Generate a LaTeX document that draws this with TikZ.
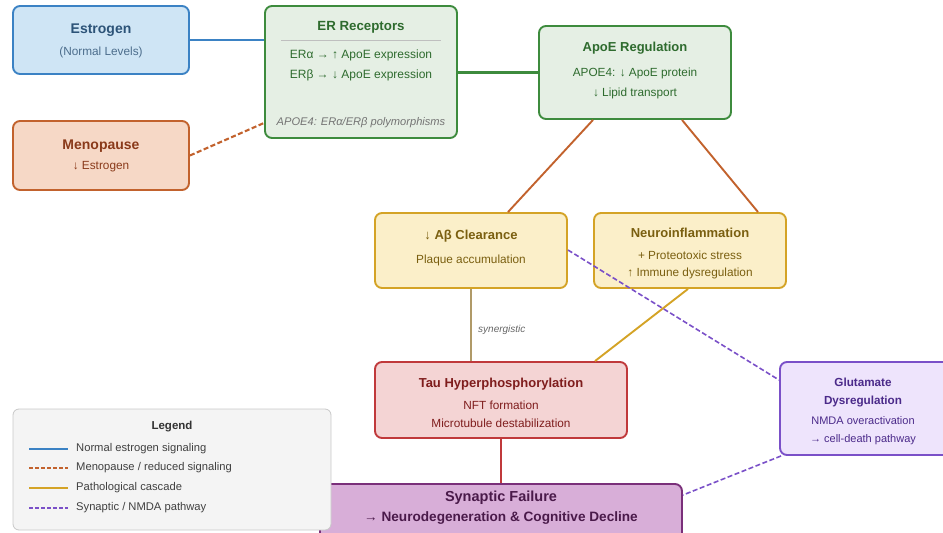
\documentclass[tikz,border=0pt]{standalone}
\usepackage{fontspec}
\setmainfont{Liberation Sans}
\usetikzlibrary{calc}
\definecolor{bBd}{HTML}{3B82C4}\definecolor{bFl}{HTML}{CFE5F5}\definecolor{bTx}{HTML}{2C5378}
\definecolor{gBd}{HTML}{3D8B3D}\definecolor{gFl}{HTML}{E5EFE4}\definecolor{gTx}{HTML}{2E6B2E}
\definecolor{oBd}{HTML}{C2622D}\definecolor{oFl}{HTML}{F6D8C6}\definecolor{oTx}{HTML}{8A3A1A}
\definecolor{yBd}{HTML}{D4A326}\definecolor{yFl}{HTML}{FBEFC9}\definecolor{yTx}{HTML}{7A5F10}
\definecolor{rBd}{HTML}{C0393B}\definecolor{rFl}{HTML}{F4D4D4}\definecolor{rTx}{HTML}{7F1D1D}
\definecolor{pBd}{HTML}{7A50C8}\definecolor{pFl}{HTML}{EEE4FC}\definecolor{pTx}{HTML}{4B2A8A}
\definecolor{sBd}{HTML}{7A2F7A}\definecolor{sFl}{HTML}{D8AED8}\definecolor{sTx}{HTML}{4A1A4A}
\definecolor{lgBd}{HTML}{C8C8C8}\definecolor{lgFl}{HTML}{F4F4F4}
\definecolor{synC}{HTML}{B09A68}
\tikzset{
  box/.style={draw, rounded corners=7pt, line width=1.9pt, inner sep=0pt},
  ttl/.style={font=\bfseries\fontsize{13}{15}\selectfont, inner sep=0pt},
  bigttl/.style={font=\bfseries\fontsize{14}{16}\selectfont, inner sep=0pt},
  bdy/.style={font=\fontsize{11.8}{14}\selectfont, inner sep=0pt},
  lgt/.style={font=\fontsize{11.2}{13}\selectfont, inner sep=0pt, anchor=west, text=black!75},
  conn/.style={line width=2.1pt},
  dsh/.style={dash pattern=on 5pt off 2.5pt},
}
\begin{document}
\begin{tikzpicture}[x=1pt,y=-1pt]
\useasboundingbox (0,0) rectangle (943,533);
\clip (0,0) rectangle (943,533);
% boxes
\node[box, draw=bBd, fill=bFl, minimum width=176, minimum height=68] (estrogen) at (101,40) {};
\node[box, draw=gBd, fill=gFl, minimum width=192, minimum height=132] (er) at (361,72) {};
\node[box, draw=oBd, fill=oFl, minimum width=176, minimum height=69] (meno) at (101,155.5) {};
\node[box, draw=gBd, fill=gFl, minimum width=192, minimum height=93] (apoe) at (635,72.5) {};
\node[box, draw=yBd, fill=yFl, minimum width=192, minimum height=75] (ab) at (471,250.5) {};
\node[box, draw=yBd, fill=yFl, minimum width=192, minimum height=75] (neuro) at (690,250.5) {};
\node[box, draw=rBd, fill=rFl, minimum width=252, minimum height=76] (tau) at (501,400) {};
\node[box, draw=pBd, fill=pFl, minimum width=170, minimum height=93] (glu) at (865,408.5) {};
\node[box, draw=sBd, fill=sFl, minimum width=362, minimum height=56] (syn) at (501,512) {};
\node[draw=lgBd, fill=lgFl, rounded corners=6pt, line width=0.8pt, minimum width=318, minimum height=121, inner sep=0pt] (legend) at (172,469.5) {};

% connectors
\draw[conn, bBd] (estrogen.east) -- (er.west |- estrogen.east);
\coordinate (erbl) at ($(er.south west)+(0,-16)$);
\draw[conn, oBd, dsh] (meno.east) -- (erbl);
\draw[conn, gBd] (er.east |- apoe.west) -- (apoe.west);
\draw[conn, oBd, line width=1.9pt] ($(apoe.south)+(-42,0)$) -- ($(ab.north)+(37,0)$);
\draw[conn, oBd, line width=1.9pt] ($(apoe.south)+(47,0)$) -- ($(neuro.north)+(68,0)$);
\draw[conn, synC, line width=1.9pt] (ab.south) -- (tau.north -| ab.south);
\node[font=\itshape\fontsize{10}{12}\selectfont, text=black!60, inner sep=0pt, anchor=west] (synlbl) at (478,330) {synergistic};
\draw[conn, yBd, line width=1.9pt] ($(neuro.south)+(-2,0)$) -- ($(tau.north)+(94,0)$);
\draw[conn, pBd, dsh, line width=1.6pt] ($(ab.east)+(0,-0.5)$) -- ($(glu.west)+(0,-28.5)$);
\draw[conn, rBd] (tau.south -| syn.north) -- (syn.north);
\draw[conn, pBd, dsh, line width=1.6pt] ($(glu.south west)+(2,0)$) -- ($(syn.east)+(0,-17)$);

% texts
\node[bigttl, text=bTx] (t-estr) at (101,30) {Estrogen};
\node[bdy, text=bTx!85] (b-estr) at (101,52) {(Normal Levels)};
\node[ttl, font=\bfseries\fontsize{13.3}{15}\selectfont, text=gTx] (t-er) at (361,27) {ER Receptors};
\draw[black!25, line width=0.8pt] (281,40) -- (441,40);
\node[bdy, font=\fontsize{12}{14}\selectfont, text=gTx] (b-er1) at (361,55) {ERα → ↑ ApoE expression};
\node[bdy, font=\fontsize{12}{14}\selectfont, text=gTx] (b-er2) at (361,75) {ERβ → ↓ ApoE expression};
\node[bdy, font=\itshape\fontsize{11.1}{13}\selectfont, text=black!55] (b-er3) at (361,123) {APOE4: ERα/ERβ polymorphisms};
\node[bigttl, text=oTx] (t-meno) at (101,146) {Menopause};
\node[bdy, text=oTx] (b-meno) at (101,167) {↓ Estrogen};
\node[ttl, text=gTx] (t-apoe) at (635,48) {ApoE Regulation};
\node[bdy, text=gTx] (b-apoe1) at (635,73) {APOE4: ↓ ApoE protein};
\node[bdy, text=gTx] (b-apoe2) at (635,93) {↓ Lipid transport};
\node[ttl, text=yTx] (t-ab) at (471,236) {↓ Aβ Clearance};
\node[bdy, text=yTx] (b-ab) at (471,260) {Plaque accumulation};
\node[ttl, text=yTx] (t-neuro) at (690,233) {Neuroinflammation};
\node[bdy, text=yTx] (b-neuro1) at (690,255) {+ Proteotoxic stress};
\node[bdy, text=yTx] (b-neuro2) at (690,273) {↑ Immune dysregulation};
\node[ttl, text=rTx] (t-tau) at (501,384) {Tau Hyperphosphorylation};
\node[bdy, text=rTx] (b-tau1) at (501,405) {NFT formation};
\node[bdy, text=rTx] (b-tau2) at (501,423) {Microtubule destabilization};
\node[ttl, font=\bfseries\fontsize{11.7}{13}\selectfont, text=pTx] (t-glu1) at (863,382) {Glutamate};
\node[ttl, font=\bfseries\fontsize{11.7}{13}\selectfont, text=pTx] (t-glu2) at (863,401) {Dysregulation};
\node[bdy, font=\fontsize{11}{13}\selectfont, text=pTx] (b-glu1) at (863,421) {NMDA overactivation};
\node[bdy, font=\fontsize{11}{13}\selectfont, text=pTx] (b-glu2) at (863,440) {→ cell-death pathway};
\node[ttl, font=\bfseries\fontsize{14.5}{16}\selectfont, text=sTx] (t-syn) at (501,498) {Synaptic Failure};
\node[ttl, font=\bfseries\fontsize{13.6}{16}\selectfont, text=sTx] (t-syn2) at (501,518) {→ Neurodegeneration \& Cognitive Decline};

% legend
\node[font=\bfseries\fontsize{11.5}{13}\selectfont, text=black!80, inner sep=0pt] (lg-t) at (172,427) {Legend};
\coordinate (l1a) at (29,449); \coordinate (l1b) at (68,449);
\coordinate (l2a) at (29,468); \coordinate (l2b) at (68,468);
\coordinate (l3a) at (29,488); \coordinate (l3b) at (68,488);
\coordinate (l4a) at (29,508); \coordinate (l4b) at (68,508);
\draw[bBd, line width=1.6pt] (l1a) -- (l1b);
\draw[oBd, line width=1.6pt, dash pattern=on 4pt off 2pt] (l2a) -- (l2b);
\draw[yBd, line width=1.6pt] (l3a) -- (l3b);
\draw[pBd, line width=1.6pt, dash pattern=on 4pt off 2pt] (l4a) -- (l4b);
\node[lgt] (lg1) at (76,449) {Normal estrogen signaling};
\node[lgt] (lg2) at (76,468) {Menopause / reduced signaling};
\node[lgt] (lg3) at (76,488) {Pathological cascade};
\node[lgt] (lg4) at (76,508) {Synaptic / NMDA pathway};
\end{tikzpicture}
\end{document}
